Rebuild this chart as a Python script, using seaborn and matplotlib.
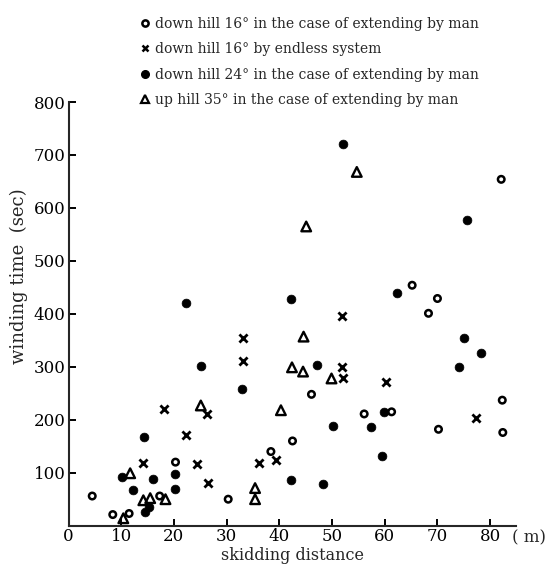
import matplotlib
matplotlib.use("Agg")
import matplotlib.pyplot as plt
import seaborn as sns
import pandas as pd
from matplotlib.lines import Line2D

# ---- data ----
labels = [
    "down hill 16° in the case of extending by man",
    "down hill 16° by endless system",
    "down hill 24° in the case of extending by man",
    "up hill 35° in the case of extending by man",
]

open16_x = [4.5, 8.4, 11.5, 17.3, 20.3, 30.3, 38.4, 42.5, 46.1, 56.1, 61.3, 65.2, 68.3, 70.0, 70.2, 82.1, 82.3, 82.4]
open16_y = [56, 21, 23, 56, 120, 50, 140, 160, 248, 211, 215, 454, 401, 429, 182, 654, 237, 176]

endless_x = [14.2, 18.1, 22.2, 24.4, 26.3, 26.4, 33.2, 33.2, 36.2, 39.4, 51.8, 51.8, 52.0, 60.2, 77.3]
endless_y = [118, 221, 171, 116, 211, 80, 354, 311, 118, 124, 396, 299, 279, 272, 203]

down24_x = [10.1, 12.3, 14.3, 14.6, 15.3, 16.1, 20.3, 20.3, 22.2, 25.1, 32.9, 42.3, 42.3, 47.2, 48.2,
            50.1, 52.1, 57.4, 59.4, 59.9, 62.3, 74.0, 75.1, 75.7, 78.3]
down24_y = [92, 67, 168, 25, 36, 88, 97, 70, 421, 301, 258, 428, 86, 303, 79,
            188, 721, 186, 131, 215, 440, 300, 355, 578, 326]

up35_x = [10.4, 11.7, 14.2, 15.5, 18.4, 25.1, 35.4, 35.4, 40.3, 42.4, 44.5, 44.6, 45.1, 49.9, 54.7]
up35_y = [14, 99, 48, 52, 50, 227, 71, 50, 218, 299, 291, 357, 565, 278, 668]

x_ticks = [0, 10, 20, 30, 40, 50, 60, 70, 80]
y_ticks = [100, 200, 300, 400, 500, 600, 700, 800]

# ---- style ----
sns.set_style("ticks")
plt.rcParams["font.family"] = ["DejaVu Serif"]

fig = plt.figure(figsize=(5.45, 5.68), dpi=100)
ax = fig.add_axes([0.1257, 0.0745, 0.822, 0.7459])

styles = [
    dict(marker="o", s=22, filled=False, lw=1.8),
    dict(marker="x", s=34, filled=None, lw=2.0),
    dict(marker="o", s=40, filled=True, lw=0.5),
    dict(marker="^", s=48, filled=False, lw=1.7),
]
data = [(open16_x, open16_y), (endless_x, endless_y), (down24_x, down24_y), (up35_x, up35_y)]

for (xs, ys), st, lab in zip(data, styles, labels):
    df = pd.DataFrame({"x": xs, "y": ys})
    before = len(ax.collections)
    if st["filled"] is None:
        sns.scatterplot(data=df, x="x", y="y", marker=st["marker"], s=st["s"],
                        color="black", linewidth=st["lw"], ax=ax, legend=False, zorder=3)
    else:
        sns.scatterplot(data=df, x="x", y="y", marker=st["marker"], s=st["s"],
                        color="black", edgecolor="black", linewidth=st["lw"], ax=ax,
                        legend=False, zorder=3)
        if not st["filled"]:
            for c in ax.collections[before:]:
                c.set_facecolor("none")

ax.set_xlim(0, 85)
ax.set_ylim(0, 800)
ax.set_xticks(x_ticks)
ax.set_xticklabels([str(v) for v in x_ticks])
ax.set_yticks(y_ticks)
ax.set_yticklabels([str(v) for v in y_ticks])
sns.despine(ax=ax)
for sp in ["left", "bottom"]:
    ax.spines[sp].set_linewidth(1.5)
ax.tick_params(direction="in", length=5, width=1.4, labelsize=12, pad=2, colors="black")

ax.set_xlabel("skidding distance", fontsize=11.5, labelpad=1)
ax.set_ylabel("winding time  (sec)", fontsize=13)
ax.yaxis.set_label_coords(-0.09, 0.59)
ax.annotate("( m)", xy=(1, 0), xycoords="axes fraction", xytext=(9, -3),
            textcoords="offset points", ha="center", va="top", fontsize=12)

handles = [
    Line2D([], [], ls="none", marker="o", mfc="none", mec="black", mew=1.8, ms=4.5),
    Line2D([], [], ls="none", marker="x", color="black", mew=1.8, ms=5),
    Line2D([], [], ls="none", marker="o", color="black", ms=5.5),
    Line2D([], [], ls="none", marker="^", mfc="none", mec="black", mew=1.6, ms=6),
]
fig.legend(handles, labels, loc="upper left", bbox_to_anchor=(0.231, 0.995),
           bbox_transform=fig.transFigure, frameon=False, fontsize=10,
           handlelength=0.8, handletextpad=0.3, labelspacing=0.82, borderpad=0.5)

fig.savefig("out.png", dpi=100)
